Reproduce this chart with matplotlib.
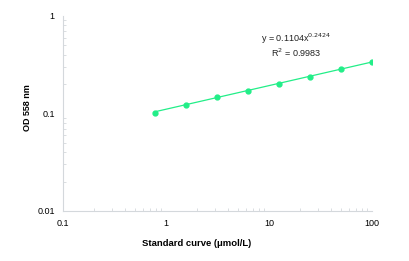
import matplotlib
matplotlib.use("Agg")
import matplotlib.pyplot as plt
import numpy as np

plt.rcParams['font.family'] = ['Liberation Sans', 'DejaVu Sans']

conc = [0.78125, 1.5625, 3.125, 6.25, 12.5, 25, 50, 100]
od = [0.102, 0.122, 0.147, 0.170, 0.200, 0.236, 0.283, 0.335]
x_ticks = [0.1, 1, 10, 100]
x_tick_labels = ["0.1", "1", "10", "100"]
y_ticks = [0.01, 0.1, 1]
y_tick_labels = ["0.01", "0.1", "1"]
fit_a, fit_b = 0.1104, 0.2424
fit_r2 = 0.9983

green = "#22ee88"
axis_grey = "#d4d8dc"

fig = plt.figure(figsize=(4.09, 2.61), dpi=100)
ax = fig.add_axes([0.154, 0.192, 0.756, 0.747])

# power trendline over the data span
xs = np.array([conc[0], conc[-1]])
ax.plot(xs, fit_a * xs ** fit_b, color=green, lw=0.9, zorder=2)
ax.plot(conc, od, "o", color=green, ms=3.5, mec=green, zorder=3)

ax.set_xscale("log")
ax.set_yscale("log")
ax.set_xlim(0.1, 100)
ax.set_ylim(0.01, 1)
ax.set_xticks(x_ticks)
ax.set_xticklabels(x_tick_labels)
ax.set_yticks(y_ticks)
ax.set_yticklabels(y_tick_labels)

for side in ("top", "right"):
    ax.spines[side].set_visible(False)
for side in ("left", "bottom"):
    ax.spines[side].set_color(axis_grey)
    ax.spines[side].set_linewidth(0.8)

ax.tick_params(axis="both", which="major", length=0, labelsize=6.5, pad=6)
ax.tick_params(axis="both", which="minor", length=2, color=axis_grey,
               direction="in", labelleft=False, labelbottom=False)

ax.set_ylabel("OD 558 nm", fontsize=6.5, fontweight="bold")
ax.yaxis.set_label_coords(-0.10, 0.53)
fig.text(0.48, 0.068, "Standard curve (μmol/L)", fontsize=6.8,
         fontweight="bold", ha="center", va="center")

ax.text(0.754, 0.882, "y = 0.1104x$^{0.2424}$", transform=ax.transAxes,
        fontsize=6.5, ha="center", va="center", color="#222222")
ax.text(0.754, 0.81, "R$^{2}$ = %.4f" % fit_r2, transform=ax.transAxes,
        fontsize=6.5, ha="center", va="center", color="#222222")

fig.savefig("out.png", dpi=100)
